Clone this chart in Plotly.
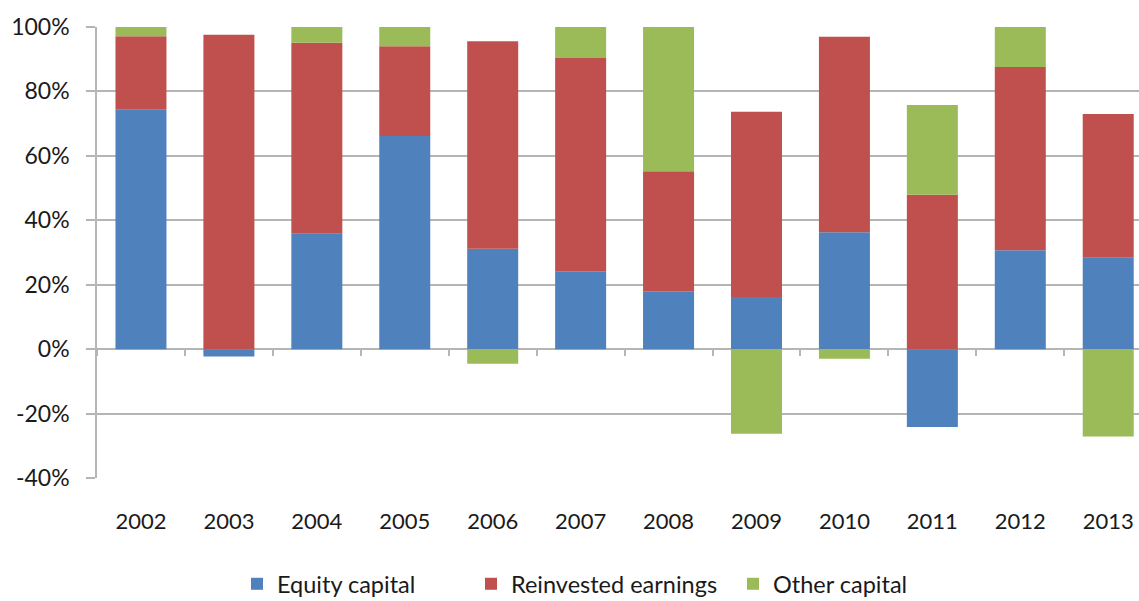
import plotly.graph_objects as go

years = ["2002", "2003", "2004", "2005", "2006", "2007", "2008", "2009", "2010", "2011", "2012", "2013"]
equity_capital = [74.3, -2.3, 35.8, 66.2, 31.2, 24.2, 18.0, 16.2, 36.3, -24.2, 30.7, 28.4]
reinvested_earnings = [22.8, 97.6, 59.3, 27.8, 64.4, 66.2, 37.2, 57.5, 60.7, 47.9, 56.9, 44.6]
other_capital = [2.9, 0.0, 4.9, 6.0, -4.5, 9.6, 44.8, -26.3, -3.0, 27.9, 12.4, -27.1]

y_ticks = [-40, -20, 0, 20, 40, 60, 80, 100]
y_tick_text = ["-40%", "-20%", "0%", "20%", "40%", "60%", "80%", "100%"]

idx = list(range(len(years)))
boundaries = [i + 0.5 for i in range(-1, len(years))]

FONT = "Lato, 'Open Sans', sans-serif"
GRID = "#b5b5b5"
W, H = 1139, 601

series = [
    ("Equity capital", equity_capital, "#4F81BD", "legend", 257),
    ("Reinvested earnings", reinvested_earnings, "#C0504D", "legend2", 491),
    ("Other capital", other_capital, "#9BBB59", "legend3", 753),
]

fig = go.Figure()
for name, vals, color, leg, _ in series:
    fig.add_trace(go.Bar(x=idx, y=vals, name=name, legend=leg,
                         marker=dict(color=color, line=dict(width=0)), width=0.58))

# helper trace so the zero-line tick axis is drawn
fig.add_trace(go.Scatter(x=[None], y=[None], xaxis="x2", showlegend=False, hoverinfo="skip"))

legend_common = dict(orientation="h", xref="container", yref="container", xanchor="left",
                     yanchor="middle", y=(H - 584) / H, font=dict(size=23.5, color="#1a1a1a"),
                     itemwidth=30, bgcolor="rgba(0,0,0,0)")
legends = {}
for name, vals, color, leg, px in series:
    legends[leg] = dict(legend_common, x=(px - 20) / W)

fig.update_layout(
    width=W, height=H,
    margin=dict(l=97, r=0, t=27, b=123, autoexpand=False),
    paper_bgcolor="white", plot_bgcolor="white",
    barmode="relative",
    font=dict(family=FONT, size=22, color="#1a1a1a"),
    showlegend=True,
    xaxis=dict(range=[-0.5, 11.35], tickmode="array", tickvals=idx, ticktext=years,
               showgrid=False, zeroline=False, showline=False, ticks="",
               ticklabelstandoff=28, fixedrange=True, automargin=False),
    xaxis2=dict(overlaying="x", anchor="free", position=40 / 140, range=[-0.5, 11.35],
                tickmode="array", tickvals=boundaries, ticks="outside", ticklen=6,
                tickcolor=GRID, tickwidth=1.5, showticklabels=False, showgrid=False,
                zeroline=False, showline=False, automargin=False),
    yaxis=dict(range=[-40, 100], tickmode="array", tickvals=y_ticks, ticktext=y_tick_text,
               showgrid=True, gridcolor=GRID, gridwidth=1.5,
               zeroline=True, zerolinecolor=GRID, zerolinewidth=1.5,
               showline=True, linecolor=GRID, linewidth=1.5,
               ticks="outside", ticklen=9, tickcolor=GRID, tickwidth=1.5,
               ticklabelstandoff=12, tickfont=dict(size=23), automargin=False),
    **legends,
)

fig.write_html(
    "out.html",
    config={"displayModeBar": False},
    post_script="document.body.style.margin='0';document.body.style.overflow='hidden';",
)
